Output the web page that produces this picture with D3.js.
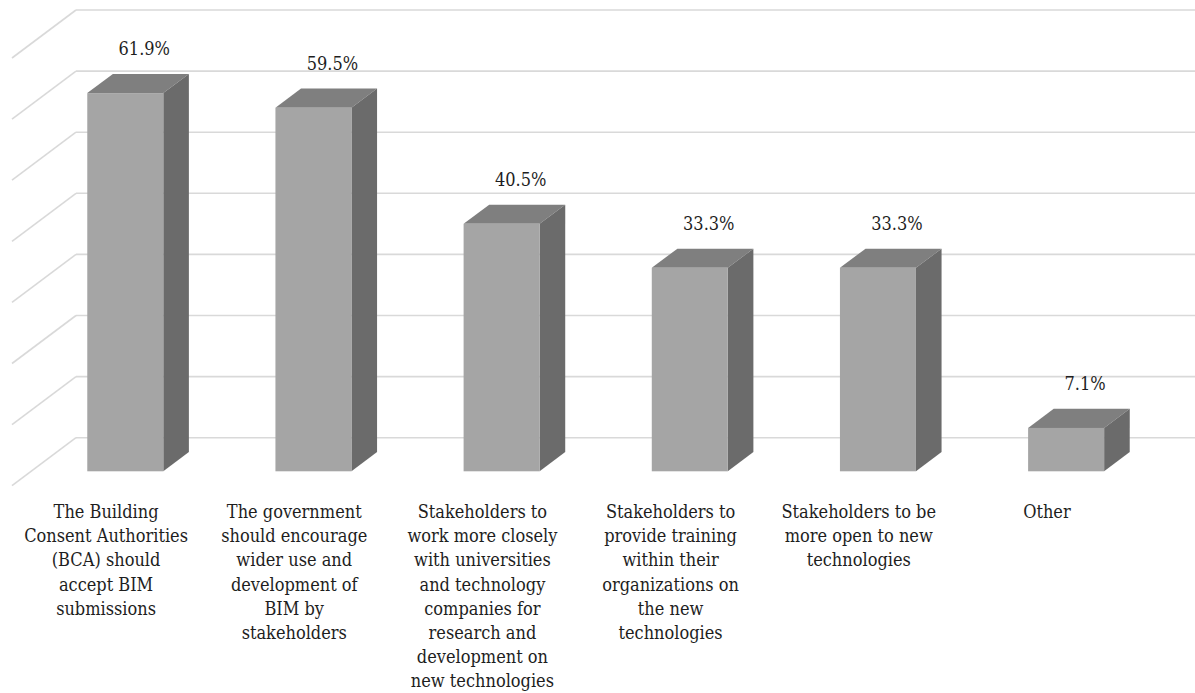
<!DOCTYPE html>
<html>
<head>
<meta charset="utf-8">
<script src="https://cdn.jsdelivr.net/npm/d3@7"></script>
<style>
  html, body { margin: 0; padding: 0; background: #fff; }
  svg { display: block; }
  text { font-family: "DejaVu Serif Condensed", "DejaVu Serif", serif; font-stretch: condensed; }
</style>
</head>
<body>
<svg id="chart" width="1195" height="693"></svg>
<script>
// Survey results: recommended actions to increase BIM adoption (% of respondents)
const categories = ["BCA", "Government", "Universities", "Training", "Open", "Other"];
const categoryLines = [
  ["The Building", "Consent Authorities", "(BCA) should", "accept BIM", "submissions"],
  ["The government", "should encourage", "wider use and", "development of", "BIM by", "stakeholders"],
  ["Stakeholders to", "work more closely", "with universities", "and technology", "companies for", "research and", "development on", "new technologies"],
  ["Stakeholders to", "provide training", "within their", "organizations on", "the new", "technologies"],
  ["Stakeholders to be", "more open to new", "technologies"],
  ["Other"]
];
const values = [61.9, 59.5, 40.5, 33.3, 33.3, 7.1];
const valueLabels = ["61.9%", "59.5%", "40.5%", "33.3%", "33.3%", "7.1%"];
const gridTicks = [0, 10, 20, 30, 40, 50, 60, 70];

const W = 1195, H = 693;
const svg = d3.select("#chart");

// Oblique 3D frame: back wall plane plus a floor depth offset toward the viewer
const wallLeft = 76, wallRight = 1205;
const depth = { dx: -64, dy: 48 };
const tBack = 0.3, tFront = 0.7;   // bar depth placement within the floor

const x = d3.scaleBand().domain(categories).range([wallLeft, wallRight])
  .paddingInner(0.596).paddingOuter(0.298);
const y = d3.scaleLinear().domain([0, 70]).range([437.7, 10]);

const shift = (t) => [depth.dx * t, depth.dy * t];

// gridlines on the back wall and the left side wall
const grid = svg.append("g").attr("stroke", "#d9d9d9").attr("stroke-width", 1.6).attr("fill", "none");
grid.selectAll("line.h").data(gridTicks).join("line")
  .attr("class", "h")
  .attr("x1", wallLeft).attr("x2", W)
  .attr("y1", d => y(d)).attr("y2", d => y(d));
grid.selectAll("line.d").data(gridTicks).join("line")
  .attr("class", "d")
  .attr("x1", wallLeft).attr("y1", d => y(d))
  .attr("x2", wallLeft + depth.dx).attr("y2", d => y(d) + depth.dy);

// bars: top, side and front faces
const bw = x.bandwidth();
const [fbx, fby] = shift(tFront);
const [bbx, bby] = shift(tBack);
const bars = svg.append("g").selectAll("g").data(values).join("g");

bars.each(function (v, i) {
  const g = d3.select(this);
  const x0 = x(categories[i]);
  const yTop = y(v), yBase = y(0);
  const fl = x0 + fbx, fr = x0 + bw + fbx;
  const bl = x0 + bbx, br = x0 + bw + bbx;
  g.append("path")
    .attr("d", `M${fl},${yTop + fby}L${fr},${yTop + fby}L${br},${yTop + bby}L${bl},${yTop + bby}Z`)
    .attr("fill", "#7f7f7f");
  g.append("path")
    .attr("d", `M${fr},${yTop + fby}L${fr},${yBase + fby}L${br},${yBase + bby}L${br},${yTop + bby}Z`)
    .attr("fill", "#6b6b6b");
  g.append("rect")
    .attr("x", fl).attr("y", yTop + fby)
    .attr("width", bw).attr("height", yBase - yTop)
    .attr("fill", "#a5a5a5");
});

// value labels above each bar
svg.append("g").selectAll("text").data(values).join("text")
  .attr("x", (v, i) => x(categories[i]) + bw / 2 + fbx + 19)
  .attr("y", v => y(v) + bby - 19)
  .attr("text-anchor", "middle")
  .attr("font-size", 18)
  .attr("fill", "#1e1e1e")
  .text((v, i) => valueLabels[i]);

// category labels along the front edge of the floor
const catG = svg.append("g").selectAll("text").data(categories).join("text")
  .attr("x", c => x(c) + bw / 2 + depth.dx)
  .attr("y", 518)
  .attr("text-anchor", "middle")
  .attr("font-size", 18)
  .attr("fill", "#1e1e1e");
catG.each(function (c, i) {
  const t = d3.select(this);
  const cx = x(c) + bw / 2 + depth.dx;
  categoryLines[i].forEach((line, k) => {
    t.append("tspan").attr("x", cx).attr("dy", k === 0 ? 0 : 24.2).text(line);
  });
});
</script>
</body>
</html>
